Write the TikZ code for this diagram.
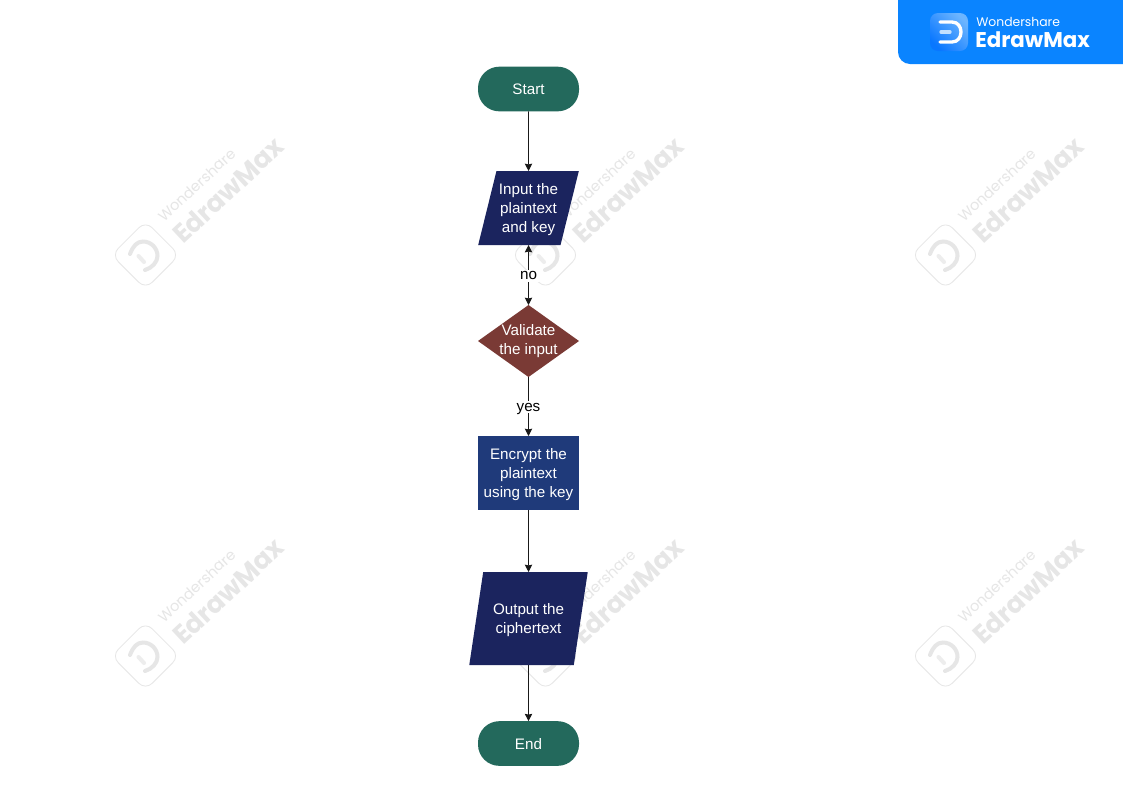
\documentclass[tikz,border=0pt]{standalone}
\usepackage{fontspec}
\setmainfont{Liberation Sans}
\newfontfamily\logofont{Poppins}
\usetikzlibrary{arrows.meta,shapes.geometric}
\definecolor{termgreen}{HTML}{23695C}
\definecolor{ionavy}{HTML}{1B245E}
\definecolor{decisionred}{HTML}{7A3A35}
\definecolor{processblue}{HTML}{1F3A7A}
\definecolor{logoblue}{HTML}{0A84FF}
\definecolor{markgrey}{HTML}{E6E6E6}
\tikzset{
  flowtext/.style = {text=white, align=center, font=\fontsize{11.4}{14.25}\selectfont},
  flowshape/.style = {flowtext, text depth=0pt, inner sep=0pt, outer sep=0pt, minimum width=75.75pt},
  termbox/.style = {flowshape, fill=termgreen, rectangle, rounded corners=16pt, minimum height=33.5pt},
  iobox/.style = {flowshape, fill=ionavy, trapezium, trapezium stretches=true},
  processbox/.style = {flowshape, fill=processblue, rectangle, minimum height=55.5pt},
  decisionbox/.style = {flowshape, fill=decisionred, diamond, minimum height=54pt},
  flowtip/.tip = {Stealth[length=5.5pt,width=5.5pt,inset=0.6pt]},
  flowline/.style = {draw=black!90, line width=0.7pt, -flowtip},
  linklabel/.style = {fill=white, inner sep=1.5pt, text depth=0pt, yshift=-0.5pt, font=\fontsize{11.4}{14.25}\selectfont},
  marktext/.style = {text=markgrey, rotate=43, inner sep=0pt},
}
\newcommand{\dglyph}{(-10,-10) -- (2,-10) .. controls (8,-10) and (11,-5) .. (11,0) .. controls (11,5) and (8,10) .. (2,10) -- (-10,10)}
\begin{document}
\begin{tikzpicture}[x=0.75pt, y=-0.75pt]
\useasboundingbox (0,0) rectangle (1123,794);
\fill [white] (0,0) rectangle (1123,794);
\foreach \dx in {0,400,800} {
  \foreach \dy in {0,401} {
    \begin{scope}[shift={(\dx,\dy)}]
    \draw [markgrey, line width=0.6pt, rounded corners=7pt, rotate around={45:(145.5,255)}] (121.5,231) rectangle (169.5,279);
    \draw [markgrey, line width=3pt, line cap=round] (130,254) .. controls (133,246) and (137,241.5) .. (143,241.5) .. controls (151,241.5) and (157.5,248) .. (157.5,256) .. controls (157.5,262) and (152,268) .. (145,270);
    \draw [markgrey!70!white, line width=3pt, line cap=round] (138.5,256) -- (144,262);
    \node [marktext, font=\logofont\fontsize{11}{13}\selectfont] (wname\dx\dy) at (197,185) {Wondershare};
    \node [marktext, font=\logofont\bfseries\fontsize{19.6}{23}\selectfont] (wmax\dx\dy) at (228,190) {EdrawMax};
    \end{scope}
  }
}
\fill [logoblue] (1123,0) -- (898,0) [rounded corners=9pt] -- (898,64) [sharp corners] -- (1123,64) -- cycle;
\shade [left color=logoblue!60!white, right color=logoblue!90!blue, shading angle=315, rounded corners=6pt] (930,13) rectangle (968,51);
\draw [white, line width=2.5pt, line cap=round, shift={(950,32)}] \dglyph;
\draw [white!75!logoblue, line width=2.5pt, line cap=round] (941,32) -- (950,32);
\node [text=white, anchor=west, inner sep=0pt, font=\logofont\fontsize{9.3}{11}\selectfont] (brandname) at (976,22) {Wondershare};
\node [text=white, anchor=west, inner sep=0pt, font=\logofont\bfseries\fontsize{16}{19}\selectfont] (brandmax) at (975,40) {EdrawMax};
\node [termbox] (start) at (528.5,89) {Start};
\node [iobox, trapezium left angle=71, trapezium right angle=109, minimum height=55.5pt] (input) at (528.5,208) {Input the\\plaintext\\and key};
\node [decisionbox, label={[flowtext]center:Validate\\the input}] (validate) at (528.5,341) {};
\node [processbox] (encrypt) at (528.5,473) {Encrypt the\\plaintext\\using the key};
\node [iobox, trapezium left angle=70, trapezium right angle=110, minimum width=89.25pt, minimum height=69.75pt] (output) at (528.5,618.5) {Output the\\ciphertext};
\node [termbox] (end) at (528.5,743.5) {End};
\draw [flowline] (start) -- (input);
\draw [flowline, flowtip-flowtip] (input) -- node [linklabel] (nolabel) {no} (validate);
\draw [flowline] (validate) -- node [linklabel] (yeslabel) {yes} (encrypt);
\draw [flowline] (encrypt) -- (output);
\draw [flowline] (output) -- (end);
\end{tikzpicture}
\end{document}
